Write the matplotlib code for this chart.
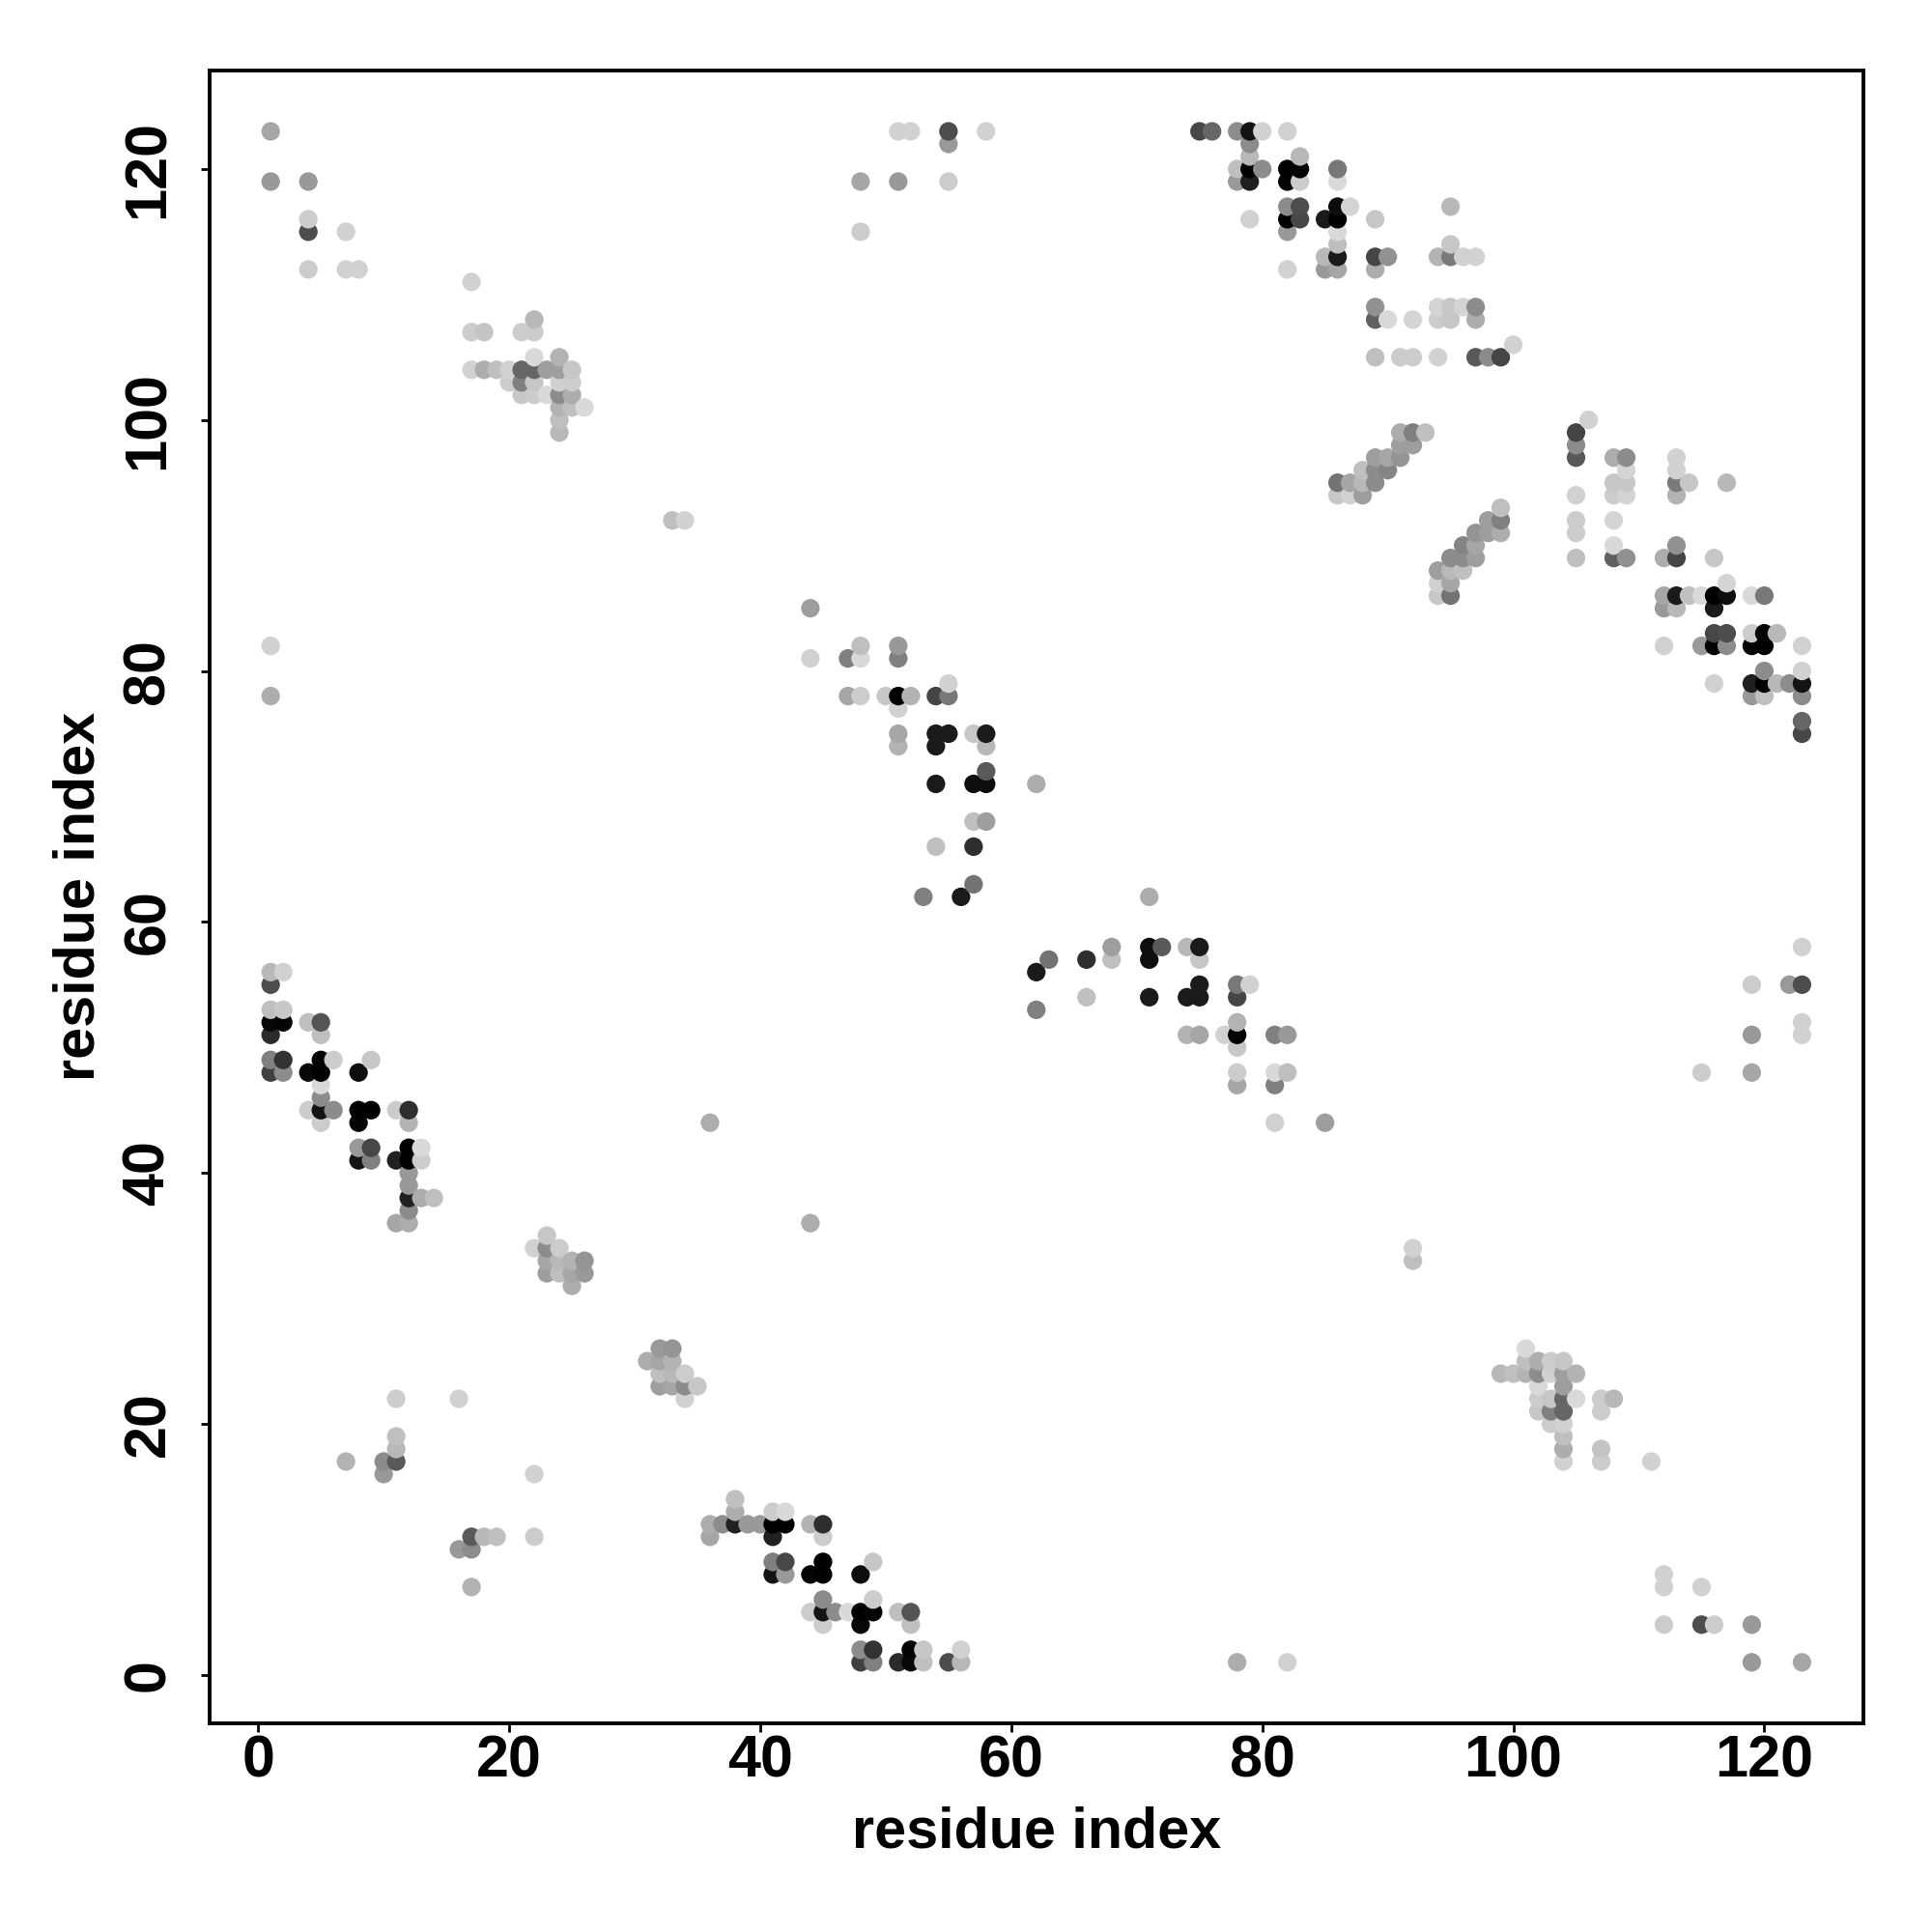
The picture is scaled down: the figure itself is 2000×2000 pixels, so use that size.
"""Residue contact map, mirrored across the diagonal."""

import matplotlib

matplotlib.use("Agg")
import matplotlib.pyplot as plt
import numpy as np

# upper triangle of the map: residue i < residue j, gray level of each contact
far_i = [1, 1, 4, 4, 4, 4, 7, 7, 8, 1, 1, 7, 10, 11, 10, 11, 11, 11, 16, 33, 34, 36]
far_j = [123, 119, 119, 116, 115, 112, 115, 112, 112, 82, 78, 17, 17, 17, 16, 18, 19, 22, 22, 92, 92, 44]
far_g = [.65, .6, .6, .8, .3, .8, .82, .82, .82, .82, .68, .7, .55, .35, .6, .72, .75, .8, .82, .75, .82, .68]

sheet_a_i = [1, 2, 1, 1, 2, 1, 2, 1, 4, 5, 5, 1, 2, 1, 2, 5, 6, 4, 5, 9, 8, 5, 5,
             4, 5, 6, 5, 8, 9, 8, 11, 12, 12, 8, 9, 8, 9, 11, 12, 13, 12, 13,
             12, 12, 12, 13, 14, 12, 11, 12]
sheet_a_j = [56, 56, 55, 53, 53, 52, 52, 51, 52, 52, 51, 49, 49, 48, 48, 49, 49, 48, 48, 49, 48, 47, 46,
             45, 45, 45, 44, 45, 45, 44, 45, 45, 44, 42, 42, 41, 41, 41, 42, 42, 41, 41,
             40, 39, 38, 38, 38, 37, 36, 36]
sheet_a_g = [.72, .82, .3, .75, .78, .03, .02, .17, .75, .33, .75, .5, .2, .25, .55, .02, .8, .03, 0, .78, .05, .85, .55,
             .8, .08, .55, .8, 0, 0, .02, .8, .18, .7, .6, .28, .08, .5, .13, 0, .85, 0, .8,
             .6, .6, .13, .68, .75, .55, .65, .68]

helix_a_i = [23, 22, 23, 24, 23, 24, 25, 26, 23, 24, 25, 26, 25]
helix_a_j = [35, 34, 34, 34, 33, 33, 33, 33, 32, 32, 32, 32, 31]
helix_a_g = [.78, .82, .55, .8, .65, .72, .7, .58, .62, .75, .65, .6, .68]

helix_b_i = [17, 17, 18, 21, 22, 22, 22, 24, 17, 18, 19, 20, 21, 22, 23, 24, 25,
             20, 21, 22, 24, 25, 21, 22, 23, 24, 25, 24, 25, 26, 24, 24]
helix_b_j = [111, 107, 107, 107, 107, 108, 105, 105, 104, 104, 104, 104, 104, 104, 104, 104, 104,
             103, 103, 103, 103, 103, 102, 102, 102, 102, 102, 101, 101, 101, 100, 99]
helix_b_g = [.82, .8, .77, .8, .8, .72, .85, .7, .82, .68, .75, .82, .4, .4, .62, .62, .78,
             .8, .5, .78, .82, .8, .78, .8, .85, .55, .68, .7, .75, .85, .75, .72]

sheet_b_i = [44, 44, 47, 48, 48, 51, 51, 47, 48, 50, 51, 52, 54, 55, 55, 51, 51, 51, 54, 55, 54,
             57, 58, 58, 58, 54, 57, 58, 62, 57, 58, 54, 57, 57, 53, 56]
sheet_b_j = [85, 81, 81, 82, 81, 82, 81, 78, 78, 78, 78, 78, 78, 78, 79, 77, 75, 74, 75, 75, 74,
             75, 75, 74, 72, 71, 71, 71, 71, 68, 68, 66, 66, 63, 62, 62]
sheet_b_g = [.62, .82, .5, .75, .85, .6, .5, .65, .8, .78, 0, .7, .27, .47, .82, .82, .65, .7, .1, .1, .1,
             .78, .1, .72, .35, .1, .05, .05, .68, .75, .62, .75, .18, .45, .5, .1]

corner_i = [48, 48, 51, 52, 51, 55, 55, 55, 58]
corner_j = [119, 115, 123, 123, 119, 123, 122, 119, 123]
corner_g = [.65, .8, .82, .82, .6, .3, .6, .8, .82]

cluster_i = [75, 76, 78, 79, 80, 82, 79, 79, 83, 78, 79, 80, 82, 83, 86, 78, 79, 82, 83, 86,
             82, 83, 86, 87, 95, 79, 82, 83, 85, 86, 89, 82, 86, 86, 95,
             85, 86, 89, 90, 94, 95, 96, 97, 82, 85, 86, 89,
             89, 94, 95, 96, 97, 89, 90, 92, 94, 95, 97, 100,
             89, 91, 92, 94, 97, 98, 99]
cluster_j = [123, 123, 123, 123, 123, 123, 122, 121, 121, 120, 120, 120, 120, 120, 120, 119, 119, 119, 119, 119,
             117, 117, 117, 117, 117, 116, 116, 116, 116, 116, 116, 115, 115, 114, 114,
             113, 113, 113, 113, 113, 113, 113, 113, 112, 112, 112, 112,
             109, 109, 109, 109, 109, 108, 108, 108, 108, 108, 108, 106,
             105, 105, 105, 105, 105, 105, 105]
cluster_g = [.28, .4, .55, .08, .82, .82, .55, .72, .72, .75, 0, .55, 0, .02, .47, .6, .12, .02, .8, .85,
             .55, .3, .05, .83, .72, .82, 0, .28, .1, 0, .78, .6, .85, .75, .78,
             .72, .1, .27, .57, .7, .48, .82, .82, .82, .6, .65, .68,
             .57, .83, .78, .83, .55, .38, .85, .83, .8, .78, .68, .82,
             .75, .8, .8, .82, .35, .55, .27]

strip_i = [86, 87, 88, 89, 86, 87, 88, 88, 89, 90, 89, 90, 91, 91, 92, 91, 92, 93]
strip_j = [95, 95, 95, 95, 94, 94, 94, 96, 96, 96, 97, 97, 97, 98, 98, 99, 99, 99]
strip_g = [.45, .65, .72, .55, .78, .82, .62, .75, .55, .52, .62, .65, .58, .62, .62, .68, .5, .75]

x_ticks = [0, 20, 40, 60, 80, 100, 120]
axis_label = "residue index"


def main() -> None:
    plt.rcParams["font.family"] = ["Liberation Sans", "DejaVu Sans"]
    plt.rcParams["font.weight"] = "bold"

    res_i = np.array(far_i + sheet_a_i + helix_a_i + helix_b_i + sheet_b_i + corner_i + cluster_i + strip_i)
    res_j = np.array(far_j + sheet_a_j + helix_a_j + helix_b_j + sheet_b_j + corner_j + cluster_j + strip_j)
    gray = np.array(far_g + sheet_a_g + helix_a_g + helix_b_g + sheet_b_g + corner_g + cluster_g + strip_g)

    # the map is symmetric, later columns are drawn over earlier ones
    x = np.concatenate([res_i, res_j])
    y = np.concatenate([res_j, res_i])
    level = np.concatenate([gray, gray])
    order = np.lexsort((y, x))

    fig = plt.figure(figsize=(10, 10), dpi=200)
    ax = fig.add_axes([0.1084, 0.1079, 0.856, 0.8558])
    ax.scatter(
        x[order],
        y[order],
        c=[str(value) for value in level[order]],
        s=48,
        linewidths=0,
        zorder=3,
    )
    ax.set_xlim(-3.88, 127.88)
    ax.set_ylim(-3.88, 127.88)
    ax.set_xticks(x_ticks)
    ax.set_yticks(x_ticks)
    ax.tick_params(axis="both", length=3.2, width=1.0, labelsize=22)
    ax.tick_params(axis="x", pad=1)
    ax.tick_params(axis="y", pad=9, labelrotation=90)
    for label in ax.get_yticklabels():
        label.set_va("center")
    for spine in ax.spines.values():
        spine.set_linewidth(1.4)
    ax.set_xlabel(axis_label, fontsize=21.4, fontweight="bold")
    ax.set_ylabel(axis_label, fontsize=21.4, fontweight="bold")
    ax.xaxis.set_label_coords(0.5, -0.0496)
    ax.yaxis.set_label_coords(-0.0626, 0.5)
    fig.savefig("out.png", facecolor="white")
    plt.close(fig)


if __name__ == "__main__":
    main()
